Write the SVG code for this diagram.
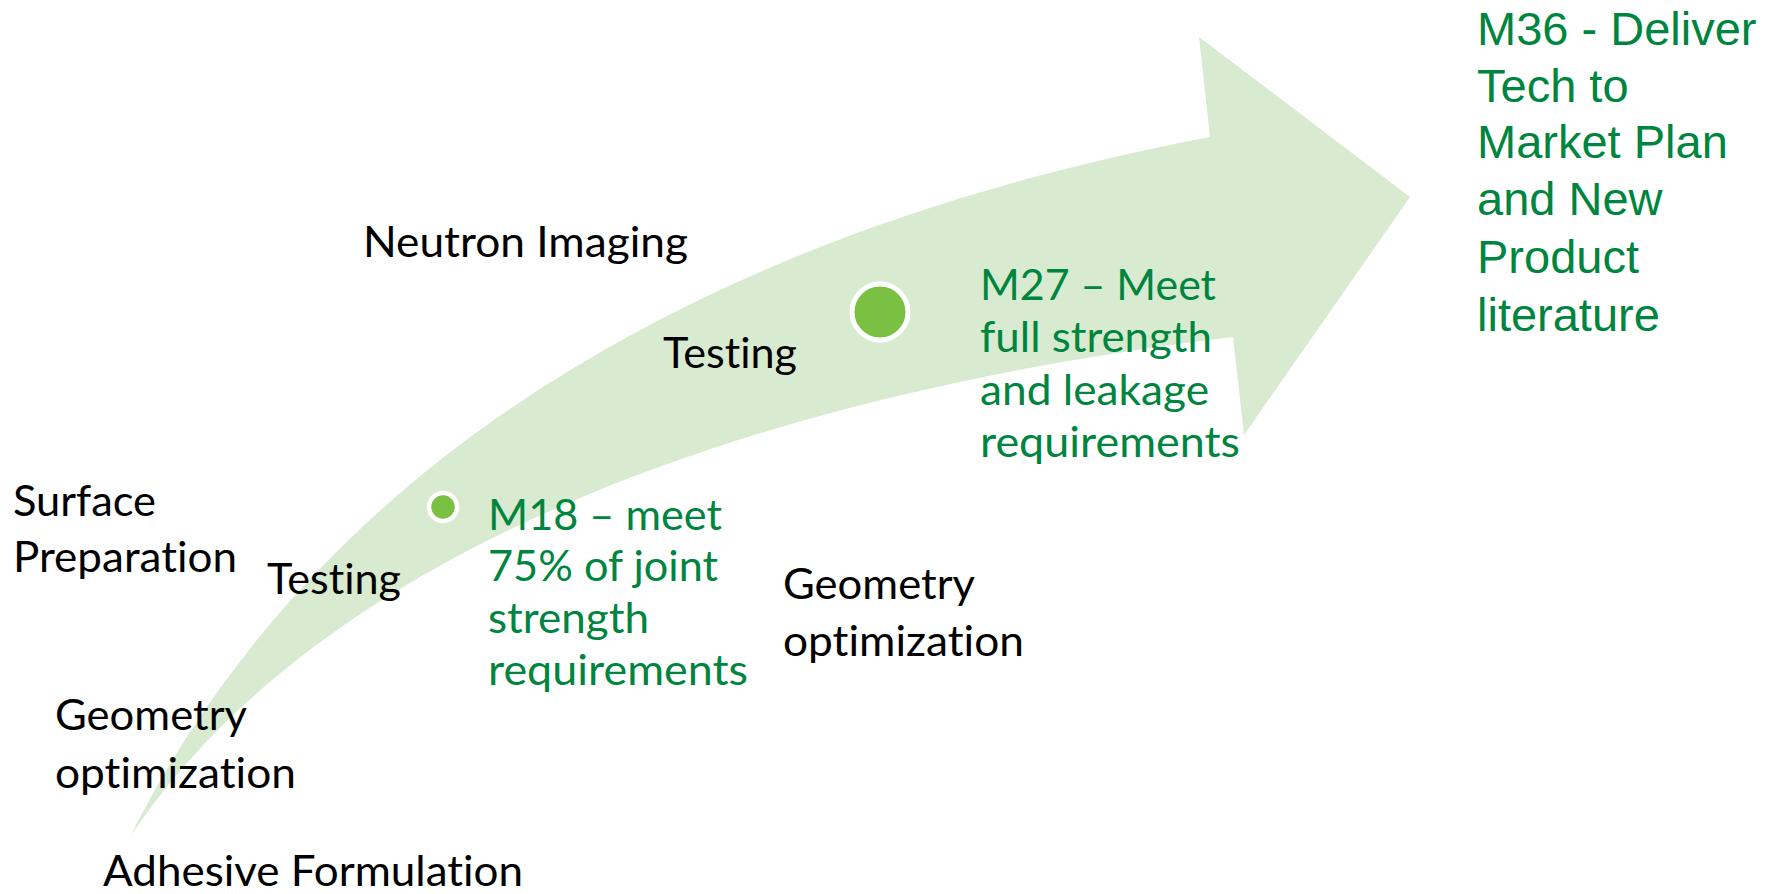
<svg xmlns="http://www.w3.org/2000/svg" width="1779" height="894" viewBox="0 0 1779 894">
  <style>
    .lbl { font-family: Lato, "Open Sans", "Liberation Sans", sans-serif; font-size: 42.5px; fill: #000000; font-variant-ligatures: none; font-feature-settings: "liga" 0, "clig" 0, "dlig" 0; }
    .ms { font-family: Lato, "Open Sans", "Liberation Sans", sans-serif; font-size: 42.5px; fill: #00853E; font-variant-ligatures: none; font-feature-settings: "liga" 0, "clig" 0, "dlig" 0; }
    .goal { font-family: "Liberation Sans", Arial, sans-serif; font-size: 47px; fill: #00853E; }
    .dot { fill: #7AC143; stroke: #FFFFFF; }
  </style>
  <rect width="1779" height="894" fill="#FFFFFF"/>
  <g id="arrow">
    <path d="M130,837 C320,457 710,232 1210,137 L1199,37 L1410,197 L1244,435 L1233,337 C783,391 330,537 130,837 Z" fill="#D8EAD0"/>
  </g>
  <g id="connectors"></g>
  <g id="neutron-imaging">
    <text class="lbl" x="363" y="257" textLength="325" lengthAdjust="spacingAndGlyphs">Neutron Imaging</text>
  </g>
  <g id="testing-upper">
    <text class="lbl" x="663" y="368" textLength="134" lengthAdjust="spacingAndGlyphs">Testing</text>
  </g>
  <g id="surface-preparation">
    <text class="lbl" x="13" y="516" textLength="143" lengthAdjust="spacingAndGlyphs">Surface</text>
    <text class="lbl" x="13" y="572" textLength="224" lengthAdjust="spacingAndGlyphs">Preparation</text>
  </g>
  <g id="testing-lower">
    <text class="lbl" x="267" y="594" textLength="134" lengthAdjust="spacingAndGlyphs">Testing</text>
  </g>
  <g id="geometry-left">
    <text class="lbl" x="55" y="730" textLength="192" lengthAdjust="spacingAndGlyphs">Geometry</text>
    <text class="lbl" x="55" y="788" textLength="241" lengthAdjust="spacingAndGlyphs">optimization</text>
  </g>
  <g id="adhesive-formulation">
    <text class="lbl" x="103" y="886" textLength="420" lengthAdjust="spacingAndGlyphs">Adhesive Formulation</text>
  </g>
  <g id="geometry-right">
    <text class="lbl" x="783" y="599" textLength="192" lengthAdjust="spacingAndGlyphs">Geometry</text>
    <text class="lbl" x="783" y="656" textLength="241" lengthAdjust="spacingAndGlyphs">optimization</text>
  </g>
  <g id="m18">
    <circle class="dot" cx="443" cy="507" r="14" stroke-width="4.5"/>
    <text class="ms" x="488" y="530" textLength="234" lengthAdjust="spacingAndGlyphs">M18 – meet</text>
    <text class="ms" x="488" y="581" textLength="230" lengthAdjust="spacingAndGlyphs">75% of joint</text>
    <text class="ms" x="488" y="633" textLength="161" lengthAdjust="spacingAndGlyphs">strength</text>
    <text class="ms" x="488" y="685" textLength="260" lengthAdjust="spacingAndGlyphs">requirements</text>
  </g>
  <g id="m27">
    <circle class="dot" cx="880" cy="312" r="28" stroke-width="5"/>
    <text class="ms" x="980" y="300" textLength="236" lengthAdjust="spacingAndGlyphs">M27 – Meet</text>
    <text class="ms" x="980" y="352" textLength="232" lengthAdjust="spacingAndGlyphs">full strength</text>
    <text class="ms" x="980" y="405" textLength="229" lengthAdjust="spacingAndGlyphs">and leakage</text>
    <text class="ms" x="980" y="457" textLength="260" lengthAdjust="spacingAndGlyphs">requirements</text>
  </g>
  <g id="m36">
    <text class="goal" x="1477" y="45">M36 - Deliver</text>
    <text class="goal" x="1477" y="102">Tech to</text>
    <text class="goal" x="1477" y="158">Market Plan</text>
    <text class="goal" x="1477" y="215">and New</text>
    <text class="goal" x="1477" y="273">Product</text>
    <text class="goal" x="1477" y="331">literature</text>
  </g>
</svg>
